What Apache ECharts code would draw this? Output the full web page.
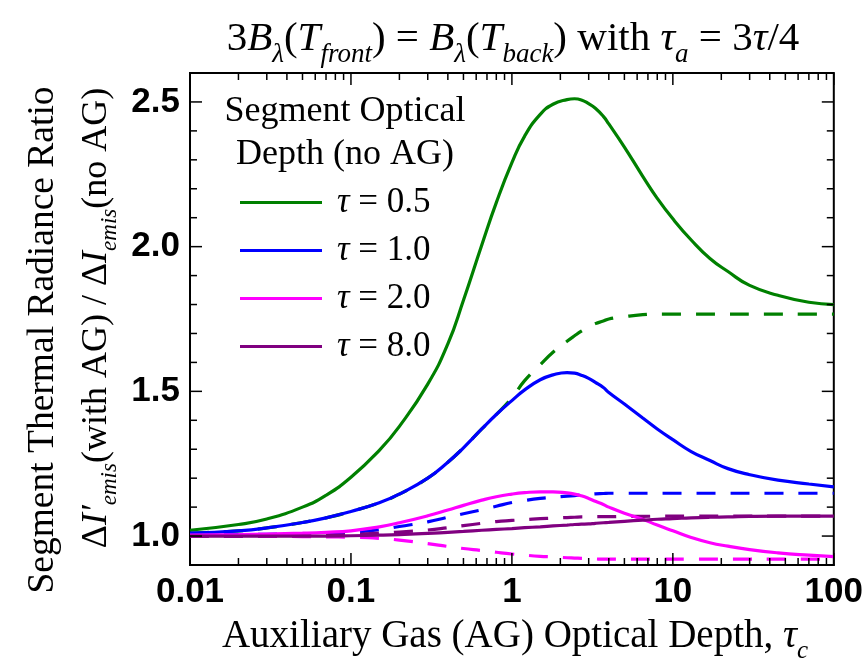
<!DOCTYPE html>
<html>
<head>
<meta charset="utf-8">
<script src="https://cdn.jsdelivr.net/npm/echarts@6/dist/echarts.min.js"></script>
<style>
html,body{margin:0;padding:0;background:#fff;}
#main{width:866px;height:662px;}
</style>
</head>
<body>
<div id="main"></div>
<script>
// AG optical depth (x)
var tau = [0.01,0.02,0.03,0.05,0.07,0.1,0.15,0.2,0.3,0.4,0.5,0.65,0.8,1,1.2,1.5,1.8,2.2,2.45,2.7,3.0,3.3,3.7,4,5,6.5,8,10,13,17,22,30,45,70,100];

// solid curves (with AG)
var g05 = [1.02,1.04,1.059,1.10,1.141,1.203,1.296,1.379,1.525,1.664,1.815,2.006,2.152,2.29,2.382,2.457,2.492,2.508,2.511,2.507,2.494,2.478,2.450,2.424,2.344,2.243,2.167,2.096,2.023,1.959,1.914,1.866,1.832,1.808,1.80];
var b10 = [1.01,1.018,1.028,1.047,1.063,1.085,1.115,1.145,1.2,1.255,1.305,1.37,1.42,1.468,1.505,1.54,1.557,1.565,1.563,1.556,1.545,1.531,1.513,1.496,1.456,1.408,1.37,1.333,1.292,1.261,1.233,1.212,1.193,1.18,1.17];
var m20 = [1.003,1.005,1.007,1.01,1.013,1.018,1.032,1.046,1.07,1.09,1.106,1.124,1.136,1.145,1.15,1.153,1.153,1.149,1.145,1.139,1.13,1.12,1.109,1.1,1.079,1.058,1.038,1.018,0.995,0.977,0.965,0.953,0.942,0.934,0.929];
var p80 = [1.0,1.0,1.0,1.0,1.0,1.001,1.003,1.005,1.009,1.013,1.016,1.02,1.023,1.026,1.029,1.032,1.035,1.038,1.04,1.041,1.042,1.044,1.046,1.047,1.051,1.055,1.058,1.06,1.063,1.065,1.066,1.068,1.069,1.069,1.069];

// dashed curves
var g05d = [1.01,1.018,1.028,1.047,1.063,1.085,1.115,1.145,1.2,1.255,1.305,1.37,1.42,1.478,1.537,1.592,1.635,1.673,1.692,1.708,1.722,1.734,1.743,1.75,1.758,1.765,1.767,1.767,1.767,1.767,1.767,1.767,1.767,1.767,1.767];
var b10d = [1.004,1.005,1.006,1.008,1.01,1.013,1.022,1.033,1.049,1.065,1.077,1.091,1.103,1.116,1.123,1.13,1.134,1.138,1.14,1.142,1.144,1.146,1.147,1.148,1.148,1.148,1.148,1.148,1.148,1.148,1.148,1.148,1.148,1.148,1.148];
var m20d = [1.0,0.999,0.999,0.998,0.997,0.996,0.992,0.986,0.974,0.964,0.957,0.95,0.944,0.938,0.934,0.93,0.928,0.925,0.924,0.923,0.922,0.921,0.92,0.92,0.92,0.92,0.92,0.92,0.92,0.92,0.92,0.92,0.92,0.92,0.92];
var p80d = [1.0,1.0,1.001,1.002,1.003,1.005,1.01,1.014,1.021,1.029,1.036,1.044,1.05,1.054,1.057,1.06,1.062,1.064,1.065,1.066,1.066,1.067,1.067,1.067,1.068,1.068,1.069,1.069,1.069,1.069,1.069,1.069,1.069,1.069,1.069];

var legendNames = ['0.5','1.0','2.0','8.0'];
var colors = ['#008000','#0000ff','#ff00ff','#800080'];

// tick marks
var xMajor = [0.01,0.1,1,10,100];
var xMinor = [0.02,0.03,0.04,0.05,0.06,0.07,0.08,0.09,0.2,0.3,0.4,0.5,0.6,0.7,0.8,0.9,2,3,4,5,6,7,8,9,20,30,40,50,60,70,80,90];
var yMajor = [1.0,1.5,2.0,2.5];
var yMinor = [1.1,1.2,1.3,1.4,1.6,1.7,1.8,1.9,2.1,2.2,2.3,2.4];

var serif = 'Liberation Serif';
var sans = 'Liberation Sans';

function pairs(vals){
    return tau.map(function(t,i){ return [t, vals[i]]; });
}
function mk(name, vals, color, dashed){
    return {
        name: name, type: 'line', data: pairs(vals), smooth: 0.5,
        showSymbol: false, color: color, silent: true,
        lineStyle: {color: color, width: 3.2, type: dashed ? [19,15] : 'solid'}
    };
}

var chart = echarts.init(document.getElementById('main'));

var series = [
    mk('d0.5', g05d, colors[0], true),
    mk('d1.0', b10d, colors[1], true),
    mk('d2.0', m20d, colors[2], true),
    mk('d8.0', p80d, colors[3], true),
    mk('0.5', g05, colors[0], false),
    mk('1.0', b10, colors[1], false),
    mk('2.0', m20, colors[2], false),
    mk('8.0', p80, colors[3], false)
];

//刻度线（上下左右都有）
series.push({
    type: 'custom', silent: true, z: 5,
    data: xMajor.map(function(v){ return [v, 1.0, 12]; }).concat(xMinor.map(function(v){ return [v, 1.0, 7]; })),
    renderItem: function(params, api){
        var p = api.coord([api.value(0), api.value(1)]);
        var cs = params.coordSys, len = api.value(2);
        var st = {stroke: '#000', lineWidth: 1.5};
        return {type: 'group', children: [
            {type: 'line', shape: {x1: p[0], y1: cs.y + cs.height, x2: p[0], y2: cs.y + cs.height - len}, style: st},
            {type: 'line', shape: {x1: p[0], y1: cs.y, x2: p[0], y2: cs.y + len}, style: st}
        ]};
    }
});
series.push({
    type: 'custom', silent: true, z: 5,
    data: yMajor.map(function(v){ return [1, v, 12]; }).concat(yMinor.map(function(v){ return [1, v, 7]; })),
    renderItem: function(params, api){
        var p = api.coord([api.value(0), api.value(1)]);
        var cs = params.coordSys, len = api.value(2);
        var st = {stroke: '#000', lineWidth: 1.5};
        return {type: 'group', children: [
            {type: 'line', shape: {x1: cs.x, y1: p[1], x2: cs.x + len, y2: p[1]}, style: st},
            {type: 'line', shape: {x1: cs.x + cs.width, y1: p[1], x2: cs.x + cs.width - len, y2: p[1]}, style: st}
        ]};
    }
});

// rich text styles (subscripts)
function rich(size, subSize, drop){
    return {
        n: {fontFamily: serif, fontSize: size, lineHeight: size - 3, verticalAlign: 'top'},
        i: {fontFamily: serif, fontStyle: 'italic', fontSize: size, lineHeight: size - 3, verticalAlign: 'top'},
        s: {fontFamily: serif, fontStyle: 'italic', fontSize: subSize, lineHeight: subSize, padding: [drop,0,0,0], verticalAlign: 'top'}
    };
}

var option = {
    animation: false,
    backgroundColor: '#fff',
    grid: {left: 190, right: 30, top: 73, bottom: 97, show: true, borderColor: '#000', borderWidth: 2},
    xAxis: {
        type: 'log', logBase: 10, min: 0.01, max: 100,
        axisLine: {show: true, lineStyle: {color: '#000', width: 2}},
        axisTick: {show: false}, splitLine: {show: false}, minorTick: {show: false},
        axisLabel: {
            color: '#000', fontFamily: sans, fontWeight: 'bold', fontSize: 35, margin: 10,
            formatter: function(v){ return String(Number(v.toPrecision(3))); }
        }
    },
    yAxis: {
        type: 'value', min: 0.9, max: 2.6,
        axisLine: {show: true, lineStyle: {color: '#000', width: 2}},
        axisTick: {show: false}, splitLine: {show: false},
        axisLabel: {
            color: '#000', fontFamily: sans, fontWeight: 'bold', fontSize: 35, margin: 10,
            customValues: yMajor,
            formatter: function(v){ return v.toFixed(1); }
        }
    },
    legend: {
        data: legendNames, orient: 'vertical', left: 240, top: 185, padding: 0,
        icon: 'rect', itemWidth: 82, itemHeight: 3, itemGap: 13,
        selectedMode: false,
        formatter: function(n){ return '{i|τ} = ' + n; },
        textStyle: {
            color: '#000', fontFamily: serif, fontSize: 35, lineHeight: 30, padding: [0,0,0,10],
            rich: {i: {fontFamily: serif, fontStyle: 'italic', fontSize: 35, lineHeight: 30}}
        }
    },
    graphic: [
        {type: 'text', x: 513, y: 38, style: {
            text: '{n|3}{i|B}{s|λ}{n|(}{i|T}{s|front}{n|) = }{i|B}{s|λ}{n|(}{i|T}{s|back}{n|) with }{i|τ}{s|a}{n| = 3}{i|τ}{n|/4}',
            align: 'center', verticalAlign: 'middle', fill: '#000',
            rich: rich(41, 27, 22)
        }},
        {type: 'text', x: 345, y: 112, style: {text: 'Segment Optical', font: '36px "Liberation Serif"', fill: '#000', align: 'center', verticalAlign: 'middle'}},
        {type: 'text', x: 345, y: 155, style: {text: 'Depth (no AG)', font: '36px "Liberation Serif"', fill: '#000', align: 'center', verticalAlign: 'middle'}},
        {type: 'text', x: 515, y: 635, style: {
            text: '{n|Auxiliary Gas (AG) Optical Depth, }{i|τ}{s|c}',
            align: 'center', verticalAlign: 'middle', fill: '#000',
            rich: rich(39, 25, 22)
        }},
        {type: 'text', x: 43, y: 340, rotation: Math.PI / 2, style: {
            text: 'Segment Thermal Radiance Ratio', font: '37.5px "Liberation Serif"', fill: '#000',
            align: 'center', verticalAlign: 'middle'
        }},
        {type: 'text', x: 95, y: 318, rotation: Math.PI / 2, style: {
            text: '{n|Δ}{i|I′}{s|emis}{n|(with AG) / Δ}{i|I}{s|emis}{n|(no AG)}',
            align: 'center', verticalAlign: 'middle', fill: '#000',
            rich: rich(36, 23, 20)
        }}
    ],
    series: series
};
chart.setOption(option);
</script>
</body>
</html>
